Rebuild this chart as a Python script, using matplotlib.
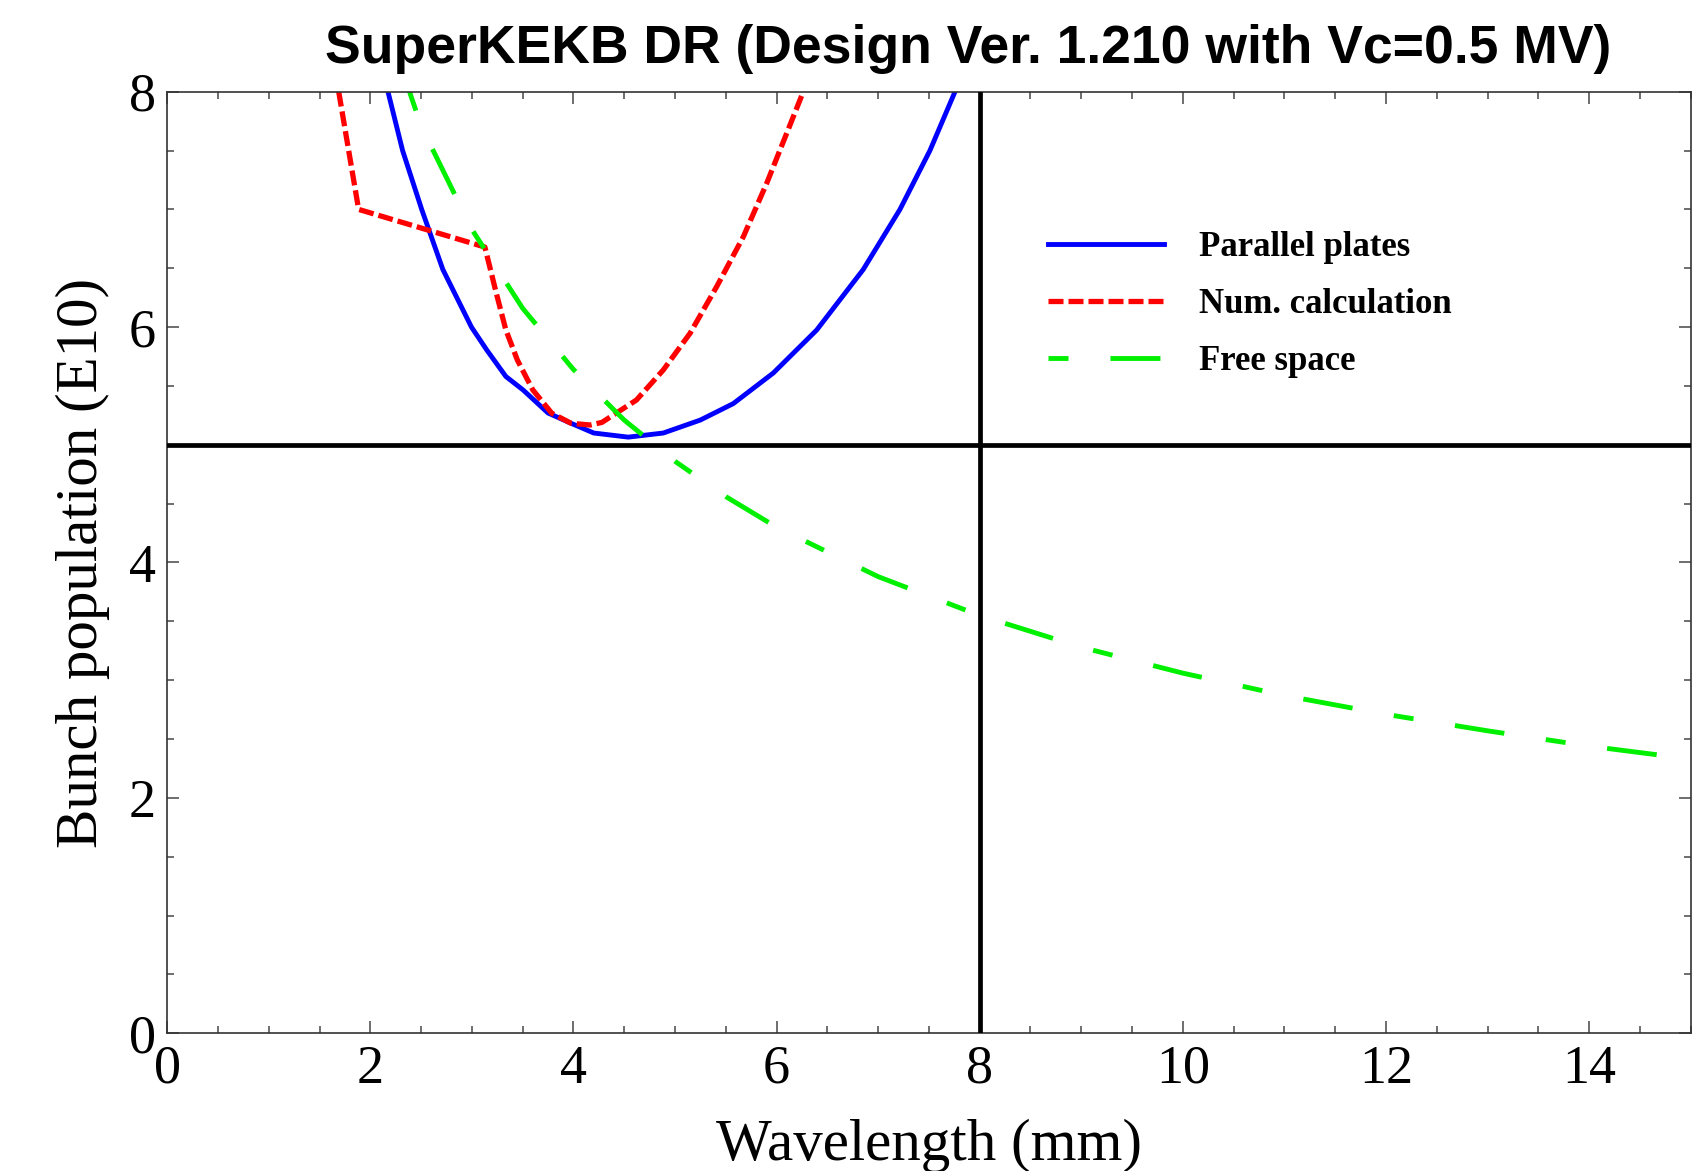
import matplotlib
matplotlib.use("Agg")
import matplotlib.pyplot as plt
from matplotlib.ticker import MultipleLocator

# Instability threshold curves: bunch population (1e10) vs. wavelength (mm)
plates_wavelength = [2.174, 2.318, 2.506, 2.714, 2.996, 3.147, 3.335, 3.504, 3.75,
                     3.976, 4.2, 4.54, 4.885, 5.249, 5.574, 5.968, 6.395, 6.854,
                     7.215, 7.51, 7.757]
plates_population = [8.0, 7.5, 7.0, 6.49, 6.0, 5.805, 5.58, 5.466, 5.27,
                     5.183, 5.10, 5.065, 5.10, 5.21, 5.35, 5.61, 5.975, 6.49,
                     7.0, 7.5, 8.0]

numcalc_wavelength = [1.689, 1.885, 3.128, 3.24, 3.335, 3.448, 3.6, 3.787, 3.976,
                      4.164, 4.28, 4.62, 4.885, 5.148, 5.41, 5.673, 5.903, 6.1, 6.263]
numcalc_population = [8.0, 7.0, 6.68, 6.29, 5.975, 5.72, 5.466, 5.268, 5.183,
                      5.168, 5.19, 5.38, 5.636, 5.947, 6.343, 6.768, 7.222, 7.647, 8.0]

free_wavelength = [2.386, 2.5, 3.0, 3.5, 4.0, 4.5, 5.0, 5.5, 6.0, 7.0, 8.0,
                   9.0, 10.0, 11.0, 12.0, 13.0, 14.0, 15.0]
free_population = [8.0, 7.71, 6.83, 6.16, 5.64, 5.21, 4.86, 4.56, 4.30, 3.88, 3.55,
                   3.28, 3.06, 2.87, 2.71, 2.57, 2.44, 2.33]

design_population = 5.0   # bunch population of the design (E10)
design_wavelength = 8.0   # wavelength marker (mm)

series_labels = ["Parallel plates", "Num. calculation", "Free space"]
title_text = "SuperKEKB DR (Design Ver. 1.210 with Vc=0.5 MV)"

plt.rcParams["lines.scale_dashes"] = False

fig = plt.figure(figsize=(16.92, 11.71), dpi=100)
ax = fig.add_axes([0.0988, 0.1176, 0.9004, 0.8041])

lw = 3.5
ax.plot(plates_wavelength, plates_population, color="#0000ff", lw=lw,
        solid_joinstyle="round", label=series_labels[0])
ax.plot(numcalc_wavelength, numcalc_population, color="#ff0000", lw=lw + 0.3,
        dashes=(10.8, 3.6), label=series_labels[1])
ax.plot(free_wavelength, free_population, color="#00f000", lw=lw,
        dashes=(14.4, 30.2, 36.0, 30.2), label=series_labels[2])

ax.axhline(design_population, color="black", lw=3.4, zorder=3)
ax.axvline(design_wavelength, color="black", lw=3.4, zorder=3)

ax.set_xlim(0, 15)
ax.set_ylim(0, 8)
ax.xaxis.set_major_locator(MultipleLocator(2))
ax.xaxis.set_minor_locator(MultipleLocator(0.5))
ax.yaxis.set_major_locator(MultipleLocator(2))
ax.yaxis.set_minor_locator(MultipleLocator(0.5))

ax.tick_params(which="both", direction="in", top=True, right=True,
               color="#555555", width=1.2)
ax.tick_params(which="major", length=8.6, pad=8)
ax.tick_params(which="minor", length=5.0)
for lab in ax.get_xticklabels() + ax.get_yticklabels():
    lab.set_fontfamily("Liberation Serif")
    lab.set_fontsize(39)
for sp in ax.spines.values():
    sp.set_color("#333333")
    sp.set_linewidth(1.2)

ax.set_xlabel("Wavelength (mm)", fontfamily="Liberation Serif", fontsize=42.5)
ax.set_ylabel("Bunch population (E10)", fontfamily="Liberation Serif", fontsize=42.5)
ax.xaxis.set_label_coords(0.5, -0.091)
ax.yaxis.set_label_coords(-0.0375, 0.5)

fig.text(0.5724, 0.9466, title_text, fontfamily="Liberation Sans",
         fontweight="bold", fontsize=38.5, ha="center", va="baseline")

ax.legend(loc="upper left", bbox_to_anchor=(0.6194, 0.8024),
          bbox_transform=fig.transFigure, frameon=False, borderpad=0,
          borderaxespad=0, handlelength=3.34, handletextpad=1.0,
          labelspacing=0.69,
          prop={"family": "Liberation Serif", "weight": "bold", "size": 25})

fig.savefig("out.png", dpi=100)
